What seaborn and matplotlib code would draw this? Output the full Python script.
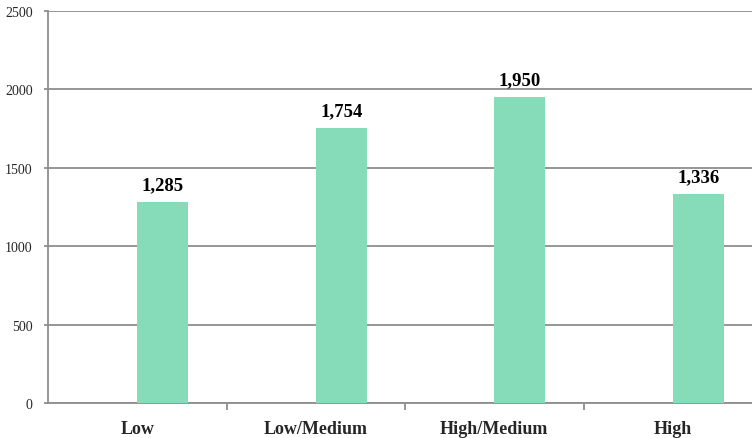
import numpy as np
import pandas as pd
import matplotlib
matplotlib.use("Agg")
import matplotlib.pyplot as plt
import seaborn as sns

# data
categories = ["Low", "Low/Medium", "High/Medium", "High"]
values = [1285, 1754, 1950, 1336]
y_ticks = [0, 500, 1000, 1500, 2000, 2500]

bar_color = "#86dbb8"
grid_color = "#8e8e8e"

sns.set_style("white")
plt.rcParams["font.family"] = ["Liberation Serif", "DejaVu Serif"]

df = pd.DataFrame({"level": categories, "count": values})

W, H = 752, 439
fig = plt.figure(figsize=(W / 100, H / 100), dpi=100)
# axes runs past the right edge of the picture, like the cropped original
left, bottom, top = 48, 35, 12
cat_w = 178.5
ax = fig.add_axes([left / W, bottom / H, 4 * cat_w / W, (H - bottom - top) / H])

bw = 0.286
sns.barplot(data=df, x="level", y="count", color=bar_color, width=bw,
            saturation=1, ax=ax, zorder=3)
# bars sit just right of the category centre (excel style, second slot)
for p in ax.patches:
    p.set_x(p.get_x() + bw / 2)
    p.set_edgecolor("none")

for p, v in zip(ax.patches, values):
    ax.text(p.get_x() + p.get_width() / 2, v + 55, f"{v:,}",
            ha="center", va="bottom", fontsize=13.5, fontweight="bold",
            color="black")

ax.set_xlim(-0.5, 3.5)
ax.set_ylim(0, 2500)
ax.set_yticks(y_ticks)
ax.set_yticklabels([str(t) for t in y_ticks], fontsize=10)
ax.yaxis.grid(True, color=grid_color, linewidth=1.3, zorder=0)
ax.set_axisbelow(True)

ax.set_xticks(range(len(categories)))
ax.set_xticklabels(categories, fontsize=13, fontweight="bold")
ax.tick_params(axis="x", length=0, pad=12)
ax.set_xticks([0.5, 1.5, 2.5], minor=True)
ax.tick_params(axis="x", which="minor", length=5, width=1.3, color=grid_color,
               direction="out", bottom=True)
ax.tick_params(axis="y", length=3, width=1.3, color=grid_color, pad=8,
               direction="out", left=True)

ax.set_xlabel("")
ax.set_ylabel("")
for s in ["top", "right"]:
    ax.spines[s].set_visible(False)
for s in ["left", "bottom"]:
    ax.spines[s].set_color(grid_color)
    ax.spines[s].set_linewidth(1.3)

fig.savefig("out.png", dpi=100)
